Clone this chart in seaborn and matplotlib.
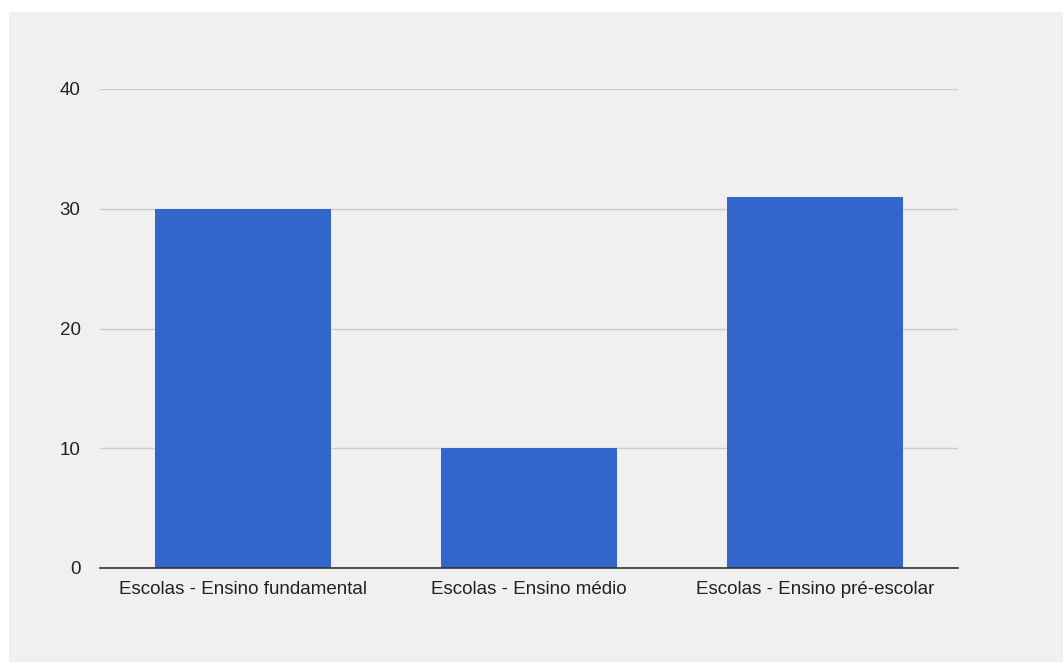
import matplotlib
matplotlib.use("Agg")
import matplotlib.pyplot as plt
import seaborn as sns
import pandas as pd
from matplotlib.patches import Rectangle

categories = ["Escolas - Ensino fundamental", "Escolas - Ensino médio", "Escolas - Ensino pré-escolar"]
values = [30, 10, 31]
yticks = [0, 10, 20, 30, 40]

df = pd.DataFrame({"cat": categories, "val": values})

sns.set_theme(style="white")
plt.rcParams['font.family'] = ['Liberation Sans', 'DejaVu Sans']

W, H = 1063, 662
fig = plt.figure(figsize=(W / 100, H / 100), dpi=100)
fig.patch.set_facecolor("white")
fig.patches.append(Rectangle((9 / W, 0), 1 - 9 / W, (H - 12) / H, transform=fig.transFigure,
                             facecolor="#f0f0f0", edgecolor="none", zorder=-10))

ax = fig.add_axes([100 / W, (H - 568) / H, (958 - 100) / W, (568 - 89) / H])
ax.set_zorder(1)
ax.set_facecolor("none")
sns.barplot(data=df, x="cat", y="val", color="#3366cc", width=0.615, saturation=1,
            linewidth=0, ax=ax, zorder=3)
ax.set_ylim(0, 40)
ax.set_xlim(-0.5, 2.5)
ax.set_yticks(yticks)
ax.set_yticklabels([str(v) for v in yticks])
ax.grid(axis="y", color="#cccccc", linewidth=1, zorder=0)
ax.set_axisbelow(True)
for s in ["top", "right", "left"]:
    ax.spines[s].set_visible(False)
ax.spines["bottom"].set_color("#333333")
ax.spines["bottom"].set_linewidth(1.2)
ax.spines["bottom"].set_zorder(5)
ax.set_xlabel("")
ax.set_ylabel("")
ax.tick_params(axis="both", length=0, labelsize=13.5, colors="#222222")
ax.tick_params(axis="y", pad=14)
ax.tick_params(axis="x", pad=9)

fig.savefig("out.png", dpi=100)
